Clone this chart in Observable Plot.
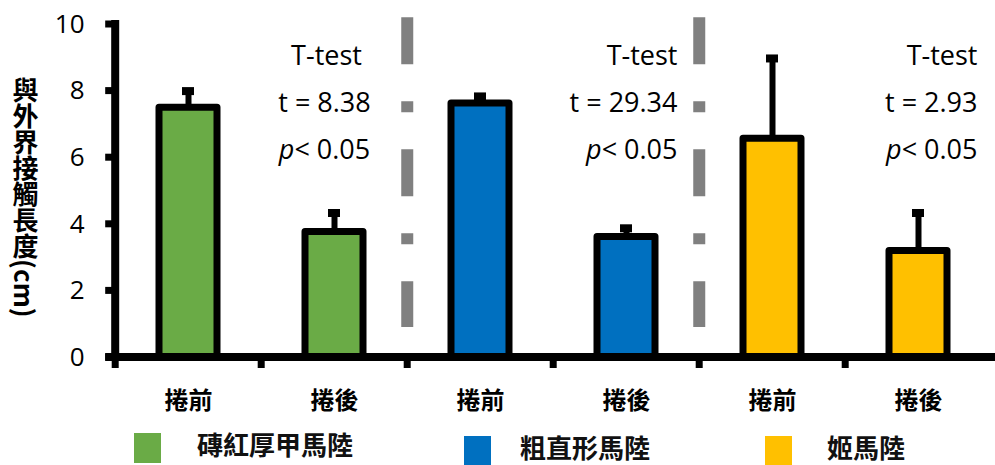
<!DOCTYPE html>
<html>
<head>
<meta charset="utf-8">
<script src="https://cdn.jsdelivr.net/npm/d3@7"></script>
<script src="https://cdn.jsdelivr.net/npm/@observablehq/plot@0.6"></script>
<style>
  body { margin: 0; background: #fff; }
  #wrap { position: relative; width: 995px; height: 465px; overflow: hidden; }
  #legend { position: relative; width: 995px; height: 40px; font-family: "Noto Sans CJK TC", sans-serif; font-weight: bold; font-size: 26px; color: #111; }
  .sw { position: absolute; width: 27px; height: 30px; }
  .lt { position: absolute; line-height: 30px; white-space: nowrap; }
</style>
</head>
<body>
<div id="wrap"></div>
<script>
// ---- data ----
const keys = ["a1", "a2", "b1", "b2", "c1", "c2"];
const catLabels = ["捲前", "捲後", "捲前", "捲後", "捲前", "捲後"];
const groups = ["磚紅厚甲馬陸", "粗直形馬陸", "姬馬陸"];
const barGroup = ["磚紅厚甲馬陸", "磚紅厚甲馬陸", "粗直形馬陸", "粗直形馬陸", "姬馬陸", "姬馬陸"];
const means = [7.5, 3.77, 7.63, 3.62, 6.57, 3.2];
const uppers = [8.0, 4.34, 7.84, 3.88, 8.98, 4.34];
const colors = ["#6AAB46", "#0070C0", "#FFC000"];
const yTicks = [0, 2, 4, 6, 8, 10];
const testName = "T-test";
const tStats = ["t = 8.38", "t = 29.34", "t = 2.93"];
const pTexts = ["p< 0.05", "p< 0.05", "p< 0.05"];
const yLabel = "與外界接觸長度(cm)";

const data = keys.map((k, i) => ({key: k, label: catLabels[i], group: barGroup[i], mean: means[i], upper: uppers[i]}));
const labelOf = Object.fromEntries(keys.map((k, i) => [k, catLabels[i]]));

// ---- layout ----
const W = 995, H = 425, mL = 114, mR = 2, mT = 24, mB = 68;
const step = (W - mL - mR) / keys.length;
const cjk = '"Noto Sans CJK TC", sans-serif';
const latin = '"Open Sans", sans-serif';

// annotation anchors (second bar of each group)
const annKeys = [keys[1], keys[3], keys[5]];
const annAnchor = ["middle", "end", "end"];
const annDx = [-10, 51, 59];

const annMarks = [];
annKeys.forEach((k, i) => {
  const common = {x: d => d, frameAnchor: "top", textAnchor: annAnchor[i], dx: annDx[i], fontSize: 27, fontFamily: latin, fill: "#000"};
  annMarks.push(Plot.text([k], {...common, text: () => testName, dy: 21, dx: annDx[i] + (i === 0 ? 2 : 0)}));
  annMarks.push(Plot.text([k], {...common, text: () => tStats[i], dy: 68}));
  annMarks.push(Plot.text([k], {...common, text: () => pTexts[i], dy: 115, className: "pval"}));
});

const plot = Plot.plot({
  width: W, height: H,
  marginLeft: mL, marginRight: mR, marginTop: mT, marginBottom: mB,
  style: {fontFamily: latin, background: "#fff", color: "#000"},
  x: {domain: keys, paddingInner: 0.6, paddingOuter: 0.3, axis: null},
  y: {domain: [0, 10], axis: null},
  color: {domain: groups, range: colors},
  marks: [
    // dashed separators
    Plot.ruleX([keys[2], keys[4]], {x: d => d, dx: -step / 2, y1: 10.2, y2: 0.9, stroke: "#808080", strokeWidth: 12, strokeDasharray: "47,37,11,37"}),
    // error bars
    Plot.ruleX(data, {x: "key", y1: "mean", y2: "upper", stroke: "#000", strokeWidth: 6}),
    Plot.tickY(data, {x: "key", y: "upper", stroke: "#000", strokeWidth: 8, insetLeft: 23, insetRight: 23}),
    // bars
    Plot.barY(data, {x: "key", y: "mean", fill: "group", stroke: "#000", strokeWidth: 7, strokeLinejoin: "round"}),
    // y axis labels (lines drawn below)
    Plot.axisY({ticks: yTicks, tickSize: 0, tickPadding: 30, fontSize: 26, fontFamily: latin, tickFormat: d => d}),
    Plot.axisX({tickSize: 0, tickPadding: 34, fontSize: 24, fontFamily: cjk, fontWeight: "bold", label: null, tickFormat: d => labelOf[d]}),
    // y label
    Plot.text([yLabel], {text: d => d, frameAnchor: "left", textAnchor: "middle", dx: -89, dy: -2, fontSize: 26, fontFamily: cjk, fontWeight: "bold", className: "ylab"}),
    ...annMarks
  ]
});

// heavy axis lines and ticks (filled rects), positioned with the plot's own scales
const sx = plot.scale("x"), sy = plot.scale("y");
const svg = d3.select(plot);
const ax = svg.append("g").attr("fill", "#000").attr("stroke", "none");
const x0 = sx.apply(keys[0]) - sx.step * sx.paddingOuter;  // left edge of the band range
const yZero = sy.apply(0), yTop = sy.apply(10);
const AW = 8; // axis thickness
ax.append("rect").attr("x", x0 - AW / 2).attr("y", yTop - 4).attr("width", AW).attr("height", yZero - yTop + 4 + AW / 2);
ax.append("rect").attr("x", x0 - AW / 2 - 6).attr("y", yZero - AW / 2).attr("width", W - x0 + AW / 2 + 6).attr("height", AW);
yTicks.forEach(t => {
  const y = sy.apply(t);
  ax.append("rect").attr("x", x0 - AW / 2 - 6).attr("y", y - 3.5).attr("width", 8).attr("height", 7);
});
keys.forEach(k => {
  const x = sx.apply(k) - sx.step * sx.paddingOuter;
  ax.append("rect").attr("x", x - 3.5).attr("y", yZero).attr("width", 7).attr("height", 11);
});

// vertical writing for y label
svg.selectAll(".ylab text").attr("style", "writing-mode: vertical-rl;").attr("dy", null);
// italic p
svg.selectAll(".pval text").each(function() {
  const t = this.textContent;
  const sel = d3.select(this);
  sel.text(null);
  sel.append("tspan").attr("font-style", "italic").text(t[0]);
  sel.append("tspan").text(t.slice(1));
});

const wrap = document.getElementById("wrap");
wrap.appendChild(plot);

// legend
const legend = document.createElement("div");
legend.id = "legend";
const swX = [134, 464, 765];
const swY = [8, 11, 11];
const txX = [197, 520, 827];
groups.forEach((g, i) => {
  const s = document.createElement("div");
  s.className = "sw";
  s.style.left = swX[i] + "px";
  s.style.top = swY[i] + "px";
  s.style.background = colors[i];
  legend.appendChild(s);
  const t = document.createElement("div");
  t.className = "lt";
  t.style.left = txX[i] + "px";
  t.style.top = (swY[i] - 4) + "px";
  t.textContent = g;
  legend.appendChild(t);
});
wrap.appendChild(legend);
</script>
</body>
</html>
